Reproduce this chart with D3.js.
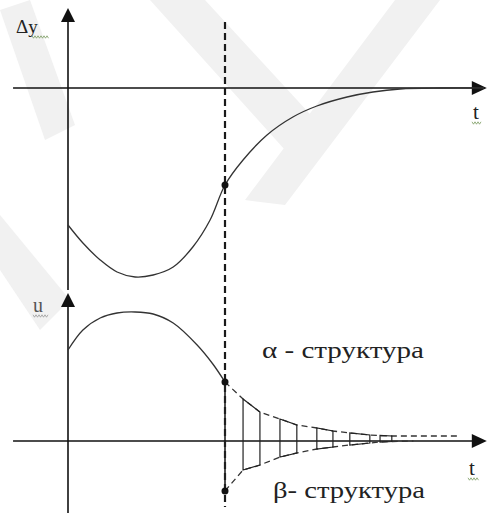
<!DOCTYPE html>
<html>
<head>
<meta charset="utf-8">
<script src="https://cdn.jsdelivr.net/npm/d3@7"></script>
<style>
  html, body { margin: 0; padding: 0; background: #fff; }
  svg { display: block; }
  .lbl { font-family: "Liberation Serif"; }
</style>
</head>
<body>
<svg id="chart" width="489" height="515"></svg>
<script>
(function() {

// --- data (t in arbitrary time units, switch moment at t = 4) ---
const tSwitch = 4;

// upper plot: Δy(t)
const dyT = [0, 0.38, 0.82, 1.25, 1.71, 2.17, 2.68, 3.18, 3.62, 4.0, 4.46, 5.07, 5.73, 6.34, 7.11, 7.77, 8.46, 9.48, 10.6];
const dyV = [-13.7, -15.5, -17.2, -18.4, -18.9, -18.7, -17.9, -15.9, -13.2, -9.7, -7.2, -4.7, -2.9, -1.8, -0.9, -0.4, -0.1, 0, 0];

// lower plot: control u(t) before switching
const uT = [0, 0.38, 0.82, 1.25, 1.71, 2.17, 2.68, 3.29, 3.69, 4.0];
const uV = [9.1, 11.1, 12.3, 12.8, 12.9, 12.7, 11.8, 9.6, 7.7, 5.9];

// envelopes of the pulse train after switching
const envUpT = [4.0, 4.46, 4.89, 5.40, 5.83, 6.34, 6.75, 7.18, 7.69, 7.95, 8.25, 9.99];
const envUpV = [5.9, 4.2, 2.9, 2.2, 1.6, 1.3, 1.0, 0.8, 0.6, 0.55, 0.5, 0.5];
const envLoT = [4.0, 4.46, 4.89, 5.40, 5.83, 6.34, 6.75, 7.18, 7.69, 7.95, 8.25, 8.8];
const envLoV = [-5.0, -2.9, -2.4, -1.6, -1.2, -0.8, -0.6, -0.4, -0.2, -0.1, -0.05, 0];

// pulses: [start, end]
const pulseStart = [4.46, 5.40, 6.34, 7.18, 7.95];
const pulseEnd   = [4.89, 5.83, 6.75, 7.69, 8.25];

const labels = {
    dy: "\u0394y",
    u: "u",
    t: "t",
    alpha: "\u03B1 - \u0441\u0442\u0440\u0443\u043A\u0442\u0443\u0440\u0430",
    beta: "\u03B2- \u0441\u0442\u0440\u0443\u043A\u0442\u0443\u0440\u0430"
};

const svg = d3.select("#chart");

// --- scales ---
const x = d3.scaleLinear().domain([0, 10]).range([68, 460.5]);
const yTop = d3.scaleLinear().domain([-20, 8]).range([288, 8]);
const yBot = d3.scaleLinear().domain([-7.2, 14.8]).range([513, 293]);

const xAxisExt = [-1.4, 10.67];

/**
 * Faint background watermark bands
 */
const wm = svg.append("g").attr("fill", "#f1f1f1");
[
    [[0, 10], [30, 0], [75, 125], [45, 140]],
    [[0, 270], [0, 215], [70, 300], [40, 330]],
    [[150, 0], [205, 0], [320, 125], [285, 150]],
    [[245, 200], [285, 205], [440, 0], [395, 0]]
].forEach(p => wm.append("path").attr("d", d3.line()(p) + "Z"));

/**
 * Axes with arrow heads
 */
function arrowRight(y) {
    const xe = x(xAxisExt[1]);
    return d3.line()([[xe, y], [xe - 15, y - 7], [xe - 15, y + 7]]) + "Z";
}
function arrowUp(xx, y) {
    return d3.line()([[xx, y], [xx - 7, y + 14], [xx + 7, y + 14]]) + "Z";
}

const axes = svg.append("g").attr("stroke", "#111").attr("stroke-width", 1.6);

// top plot
axes.append("line")
    .attr("x1", x(xAxisExt[0])).attr("x2", x(xAxisExt[1]) - 10)
    .attr("y1", yTop(0)).attr("y2", yTop(0));
axes.append("line")
    .attr("x1", x(0)).attr("x2", x(0))
    .attr("y1", yTop(7)).attr("y2", yTop(-20.2));

// bottom plot
axes.append("line")
    .attr("x1", x(xAxisExt[0])).attr("x2", x(xAxisExt[1]) - 10)
    .attr("y1", yBot(0)).attr("y2", yBot(0));
axes.append("line")
    .attr("x1", x(0)).attr("x2", x(0))
    .attr("y1", yBot(13.8)).attr("y2", yBot(-7.2));

const heads = svg.append("g").attr("fill", "#111");
heads.append("path").attr("d", arrowRight(yTop(0)));
heads.append("path").attr("d", arrowRight(yBot(0)));
heads.append("path").attr("d", arrowUp(x(0), yTop(8)));
heads.append("path").attr("d", arrowUp(x(0), yBot(14.8)));

/**
 * Switching line
 */
svg.append("line")
    .attr("x1", x(tSwitch)).attr("x2", x(tSwitch))
    .attr("y1", yTop(6.6)).attr("y2", yBot(-6.6))
    .attr("stroke", "#1a1a1a")
    .attr("stroke-width", 2.2)
    .attr("stroke-dasharray", "7,4");

/**
 * Curves
 */
const smooth = d3.line()
    .x(d => x(d[0]))
    .curve(d3.curveCatmullRom.alpha(0.5));

svg.append("path")
    .attr("d", smooth.y(d => yTop(d[1]))(d3.zip(dyT, dyV)))
    .attr("fill", "none").attr("stroke", "#333").attr("stroke-width", 1.3);

svg.append("path")
    .attr("d", smooth.y(d => yBot(d[1]))(d3.zip(uT, uV)))
    .attr("fill", "none").attr("stroke", "#333").attr("stroke-width", 1.3);

// envelopes (dashed)
const straight = d3.line().x(d => x(d[0])).y(d => yBot(d[1]));
[[envUpT, envUpV], [envLoT, envLoV]].forEach(([ts, vs]) => {
    svg.append("path")
        .attr("d", straight(d3.zip(ts, vs)))
        .attr("fill", "none")
        .attr("stroke", "#333")
        .attr("stroke-width", 1.3)
        .attr("stroke-dasharray", "6,4");
});

// envelope value at t (linear between the read points)
function envAt(ts, vs, t) {
    const i = Math.max(1, Math.min(ts.length - 1, d3.bisectLeft(ts, t)));
    const k = (t - ts[i - 1]) / (ts[i] - ts[i - 1]);
    return vs[i - 1] + k * (vs[i] - vs[i - 1]);
}

// pulse train (hatched trapezoids)
const pulses = svg.append("g")
    .attr("fill", "none")
    .attr("stroke", "#222")
    .attr("stroke-width", 1.2);

pulseStart.forEach((a, i) => {
    const b = pulseEnd[i];
    const pts = [
        [a, envAt(envLoT, envLoV, a)],
        [a, envAt(envUpT, envUpV, a)],
        [b, envAt(envUpT, envUpV, b)],
        [b, envAt(envLoT, envLoV, b)]
    ];
    pulses.append("path").attr("d", straight(pts) + "Z");
});

// first jump at the switching moment (solid)
pulses.append("line")
    .attr("x1", x(tSwitch)).attr("x2", x(tSwitch))
    .attr("y1", yBot(envUpV[0])).attr("y2", yBot(envLoV[0]))
    .attr("stroke-width", 1.6);

// points on the switching line
svg.append("g").attr("fill", "#111")
    .selectAll("circle")
    .data([yTop(dyV[dyT.indexOf(tSwitch)]), yBot(envUpV[0]), yBot(envLoV[0])])
    .join("circle")
    .attr("cx", x(tSwitch))
    .attr("cy", d => d)
    .attr("r", 3.5);

/**
 * Labels
 */
function squiggle(x0, x1, y, color) {
    const pts = d3.range(x0, x1 + 0.1, 1.5).map((xx, i) => [xx, y + (i % 2 ? 1.2 : -1.2)]);
    svg.append("path")
        .attr("d", d3.line()(pts))
        .attr("fill", "none")
        .attr("stroke", color)
        .attr("stroke-width", 0.8);
}

function label(xx, yy, size, txt, color, width) {
    const t = svg.append("text")
        .attr("class", "lbl")
        .attr("x", xx).attr("y", yy)
        .attr("font-size", size)
        .attr("fill", color || "#222")
        .text(txt);
    if (width) t.attr("textLength", width).attr("lengthAdjust", "spacingAndGlyphs");
}

label(16, 33, 19, labels.dy);
squiggle(32, 49, 37, "#7a9a60");

label(33, 312, 20, labels.u, "#555");
squiggle(33, 48, 316, "#999");

label(473, 119, 21, labels.t);
squiggle(472, 482, 123, "#7a9a60");

label(469, 475, 21, labels.t);
squiggle(468, 479, 479, "#7a9a60");

label(262, 358, 23, labels.alpha, "#222", 162);
label(273, 498, 23, labels.beta, "#222", 152);

})();
</script>
</body>
</html>
